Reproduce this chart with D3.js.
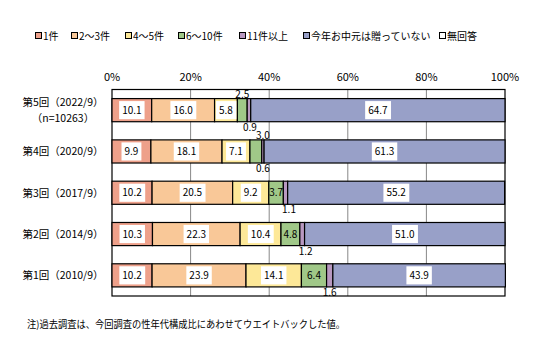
<!DOCTYPE html>
<html>
<head>
<meta charset="utf-8">
<script src="https://cdn.jsdelivr.net/npm/d3@7"></script>
<style>
  body { margin: 0; background: #fff; }
  svg text { font-family: "Noto Sans CJK JP", "Noto Sans", sans-serif; fill: #000; }
</style>
</head>
<body>
<div id="chart"></div>
<script>
const categories = ['第5回（2022/9）', '第4回（2020/9）', '第3回（2017/9）', '第2回（2014/9）', '第1回（2010/9）'];
const seriesNames = ['1件', '2～3件', '4～5件', '6～10件', '11件以上', '今年お中元は贈っていない', '無回答'];
const seriesColors = ['#eea08a', '#f9c898', '#fde898', '#a0c888', '#b898c0', '#98a0c8', '#ffffff'];

const one = [10.1, 9.9, 10.2, 10.3, 10.2];
const twoThree = [16.0, 18.1, 20.5, 22.3, 23.9];
const fourFive = [5.8, 7.1, 9.2, 10.4, 14.1];
const sixTen = [2.5, 3.0, 3.7, 4.8, 6.4];
const elevenPlus = [0.9, 0.6, 1.1, 1.2, 1.6];
const noGift = [64.7, 61.3, 55.2, 51.0, 43.9];
const noAnswer = [0, 0, 0, 0, 0];

const xTicks = [0, 20, 40, 60, 80, 100];
const note = '注)過去調査は、今回調査の性年代構成比にあわせてウエイトバックした値。';

// small horizontal nudges for the labels placed outside the bars (px)
const sixTenNudge = [0, 7, 0, 0, 0];
const elevenNudge = [1, 0, 3.5, 3.5, 0];

const width = 548, height = 361;
const svg = d3.select('#chart').append('svg')
    .attr('width', width)
    .attr('height', height);

const allSeries = [one, twoThree, fourFive, sixTen, elevenPlus, noGift, noAnswer];
const rows = categories.map((c, i) => {
    const r = { cat: c };
    seriesNames.forEach((s, j) => r[s] = allSeries[j][i]);
    return r;
});
const stacked = d3.stack().keys(seriesNames)(rows);

const x = d3.scaleLinear().domain([0, 100]).range([112, 505]);
const y = d3.scaleBand().domain(categories).range([89.5, 296]).paddingInner(0.44).paddingOuter(0.22);

// gridlines
svg.selectAll('.grid')
    .data(xTicks.filter(t => t > 0 && t < 100))
    .enter().append('line')
    .attr('x1', d => x(d)).attr('x2', d => x(d))
    .attr('y1', 89.5).attr('y2', 296)
    .attr('stroke', '#888').attr('stroke-width', 1);

// frame
svg.append('rect')
    .attr('x', x(0)).attr('y', 89.5)
    .attr('width', x(100) - x(0)).attr('height', 296 - 89.5)
    .attr('fill', 'none').attr('stroke', '#000').attr('stroke-width', 1.2);

// tick labels
svg.selectAll('.tick')
    .data(xTicks)
    .enter().append('text')
    .attr('x', d => x(d)).attr('y', 81)
    .attr('text-anchor', 'middle')
    .attr('font-size', 11)
    .text(d => d + '%');

// bars
const layer = svg.selectAll('.layer')
    .data(stacked)
    .enter().append('g')
    .attr('fill', (d, i) => seriesColors[i]);

layer.selectAll('rect')
    .data(d => d)
    .enter().append('rect')
    .attr('x', d => x(d[0]))
    .attr('y', d => y(d.data.cat))
    .attr('width', d => x(d[1]) - x(d[0]))
    .attr('height', y.bandwidth())
    .attr('stroke', '#000')
    .attr('stroke-width', 1.2);

// value labels
stacked.forEach((s, si) => {
    if (si === 6) return;
    s.forEach((d, ri) => {
        const v = d[1] - d[0];
        const cx = (x(d[0]) + x(d[1])) / 2;
        const top = y(d.data.cat);
        const bottom = top + y.bandwidth();
        const label = v.toFixed(1);
        if (si === 4) {
            // small 11件以上 values sit under the bar
            svg.append('text').attr('x', cx + elevenNudge[ri]).attr('y', bottom + 9)
                .attr('text-anchor', 'middle').attr('font-size', 10).text(label);
        } else if (si === 3 && v < 3.5) {
            svg.append('text').attr('x', cx + sixTenNudge[ri]).attr('y', top - 0.5)
                .attr('text-anchor', 'middle').attr('font-size', 10).text(label);
        } else if (si === 3) {
            svg.append('text').attr('x', cx).attr('y', (top + bottom) / 2 + 3.5)
                .attr('text-anchor', 'middle').attr('font-size', 10).text(label);
        } else {
            const g = svg.append('g');
            const box = g.append('rect').attr('fill', '#fff');
            const t = g.append('text').attr('x', cx).attr('y', (top + bottom) / 2 + 3.5)
                .attr('text-anchor', 'middle').attr('font-size', 10).text(label);
            const bb = t.node().getBBox();
            box.attr('x', bb.x - 3).attr('width', bb.width + 6)
                .attr('y', top + 2.5).attr('height', y.bandwidth() - 5);
        }
    });
});

// category labels
categories.forEach((c, i) => {
    const cy = y(c) + y.bandwidth() / 2;
    if (i === 0) {
        svg.append('text').attr('x', 63).attr('y', cy - 4).attr('text-anchor', 'middle')
            .attr('font-size', 10.5).text(c);
        svg.append('text').attr('x', 63).attr('y', cy + 11.5).attr('text-anchor', 'middle')
            .attr('font-size', 10.5).text('（n=10263）');
    } else {
        svg.append('text').attr('x', 63).attr('y', cy + 4).attr('text-anchor', 'middle')
            .attr('font-size', 10.5).text(c);
    }
});

// legend
const legendX = [35, 71, 125, 178, 239, 303, 439];
const legend = svg.selectAll('.legend')
    .data(seriesNames)
    .enter().append('g')
    .attr('transform', (d, i) => `translate(${legendX[i]},36)`);
legend.append('rect')
    .attr('x', 0.5).attr('y', -3.5).attr('width', 6).attr('height', 6)
    .attr('fill', (d, i) => seriesColors[i])
    .attr('stroke', '#000').attr('stroke-width', 1);
legend.append('text')
    .attr('x', 8).attr('y', 3.5)
    .attr('font-size', 10)
    .text(d => d);

// footnote
svg.append('text').attr('x', 27).attr('y', 328).attr('font-size', 10)
    .attr('textLength', 318).attr('lengthAdjust', 'spacingAndGlyphs')
    .text(note);
</script>
</body>
</html>
